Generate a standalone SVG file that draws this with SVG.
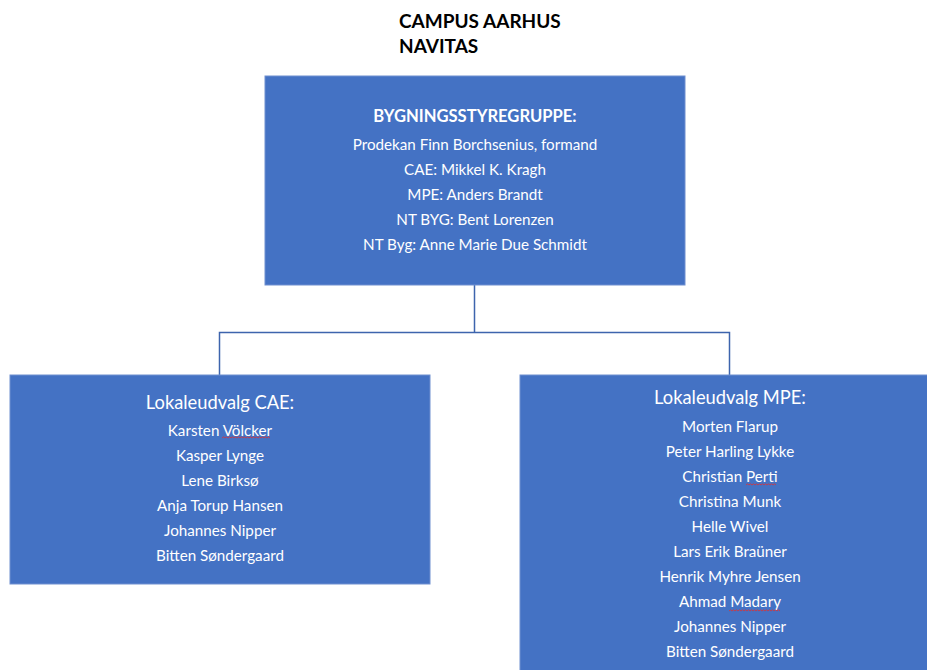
<svg xmlns="http://www.w3.org/2000/svg" width="927" height="670" viewBox="0 0 927 670">
<style>
.box{fill:#4472C4;stroke:#6f8fd0;stroke-width:1}
.t{font-family:Lato,"Open Sans","Liberation Sans",sans-serif;fill:#fff;text-anchor:middle}
.h{font-size:18.3px}
.n{font-size:15.2px}
.b{font-size:16.6px;font-weight:bold}
.title{font-family:Lato,"Open Sans","Liberation Sans",sans-serif;font-size:19px;font-weight:bold;fill:#000}
.conn{fill:none;stroke:#3d64ad;stroke-width:1.5}
.sq{fill:none;stroke:#e03030;stroke-width:0.8}
</style>
<g id="title">
<text class="title" x="399" y="28">CAMPUS AARHUS</text>
<text class="title" x="399" y="53">NAVITAS</text>
</g>
<g id="connectors">
<path class="conn" d="M474.5,285 V332.5 M219.5,375 V332.5 H729.5 V375"/>
</g>
<g id="bygningsstyregruppe">
<rect class="box" x="265" y="76" width="420" height="209"/>
<text class="t b" x="475" y="122">BYGNINGSSTYREGRUPPE:</text>
<text class="t n" x="475" y="150">Prodekan Finn Borchsenius, formand</text>
<text class="t n" x="475" y="175">CAE: Mikkel K. Kragh</text>
<text class="t n" x="475" y="200">MPE: Anders Brandt</text>
<text class="t n" x="475" y="225">NT BYG: Bent Lorenzen</text>
<text class="t n" x="475" y="250">NT Byg: Anne Marie Due Schmidt</text>
</g>
<g id="lokaleudvalg-cae">
<rect class="box" x="10" y="375" width="420" height="209"/>
<text class="t h" x="220" y="409">Lokaleudvalg CAE:</text>
<text class="t n" x="220" y="436">Karsten Völcker</text>
<text class="t n" x="220" y="461">Kasper Lynge</text>
<text class="t n" x="220" y="486">Lene Birksø</text>
<text class="t n" x="220" y="511">Anja Torup Hansen</text>
<text class="t n" x="220" y="536">Johannes Nipper</text>
<text class="t n" x="220" y="561">Bitten Søndergaard</text>
<path class="sq" d="M222,438 l1.5,-1.2 l1.5,1.2 l1.5,-1.2 l1.5,1.2 l1.5,-1.2 l1.5,1.2 l1.5,-1.2 l1.5,1.2 l1.5,-1.2 l1.5,1.2 l1.5,-1.2 l1.5,1.2 l1.5,-1.2 l1.5,1.2 l1.5,-1.2 l1.5,1.2 l1.5,-1.2 l1.5,1.2 l1.5,-1.2 l1.5,1.2 l1.5,-1.2 l1.5,1.2 l1.5,-1.2 l1.5,1.2 l1.5,-1.2 l1.5,1.2 l1.5,-1.2 l1.5,1.2 l1.5,-1.2 l1.5,1.2 l1.5,-1.2 l1.5,1.2"/>
</g>
<g id="lokaleudvalg-mpe">
<rect class="box" x="520" y="375" width="420" height="310"/>
<text class="t h" x="730" y="404">Lokaleudvalg MPE:</text>
<text class="t n" x="730" y="432">Morten Flarup</text>
<text class="t n" x="730" y="457">Peter Harling Lykke</text>
<text class="t n" x="730" y="482">Christian Perti</text>
<text class="t n" x="730" y="507">Christina Munk</text>
<text class="t n" x="730" y="532">Helle Wivel</text>
<text class="t n" x="730" y="557">Lars Erik Braüner</text>
<text class="t n" x="730" y="582">Henrik Myhre Jensen</text>
<text class="t n" x="730" y="607">Ahmad Madary</text>
<text class="t n" x="730" y="632">Johannes Nipper</text>
<text class="t n" x="730" y="657">Bitten Søndergaard</text>
<path class="sq" d="M746,485 l1.5,-1.2 l1.5,1.2 l1.5,-1.2 l1.5,1.2 l1.5,-1.2 l1.5,1.2 l1.5,-1.2 l1.5,1.2 l1.5,-1.2 l1.5,1.2 l1.5,-1.2 l1.5,1.2 l1.5,-1.2 l1.5,1.2 l1.5,-1.2 l1.5,1.2 l1.5,-1.2 l1.5,1.2 l1.5,-1.2 l1.5,1.2"/>
<path class="sq" d="M729,611 l1.5,-1.2 l1.5,1.2 l1.5,-1.2 l1.5,1.2 l1.5,-1.2 l1.5,1.2 l1.5,-1.2 l1.5,1.2 l1.5,-1.2 l1.5,1.2 l1.5,-1.2 l1.5,1.2 l1.5,-1.2 l1.5,1.2 l1.5,-1.2 l1.5,1.2 l1.5,-1.2 l1.5,1.2 l1.5,-1.2 l1.5,1.2 l1.5,-1.2 l1.5,1.2 l1.5,-1.2 l1.5,1.2 l1.5,-1.2 l1.5,1.2 l1.5,-1.2 l1.5,1.2 l1.5,-1.2 l1.5,1.2 l1.5,-1.2 l1.5,1.2 l1.5,-1.2 l1.5,1.2"/>
</g>
</svg>
